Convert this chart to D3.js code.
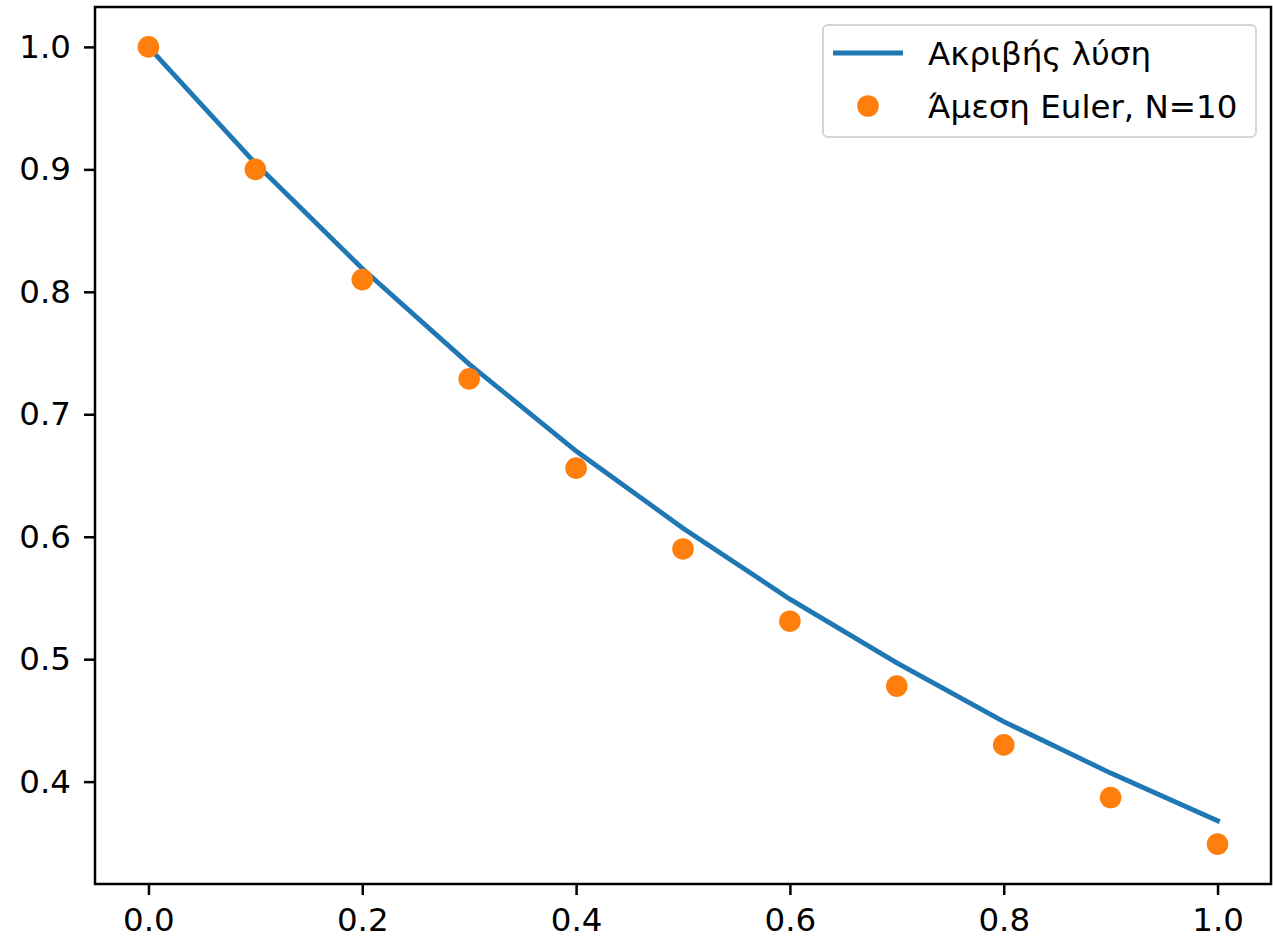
<!DOCTYPE html>
<html>
<head>
<meta charset="utf-8">
<script src="https://cdn.jsdelivr.net/npm/d3@7"></script>
<style>
  body { margin: 0; background: #fff; }
  svg { display: block; font-family: "DejaVu Sans", sans-serif; }
</style>
</head>
<body>
<svg width="1273" height="945"></svg>
<script>
// time steps t = 0, 0.1, ..., 1
var tValues = [0, 0.1, 0.2, 0.3, 0.4, 0.5, 0.6, 0.7, 0.8, 0.9, 1.0];
// exact solution
var exactValues = [1.0, 0.905, 0.819, 0.741, 0.670, 0.607, 0.549, 0.497, 0.449, 0.407, 0.368];
// explicit Euler markers
var eulerValues = [1.0, 0.9, 0.81, 0.729, 0.656, 0.590, 0.531, 0.478, 0.430, 0.387, 0.349];

var xTicks = [0.0, 0.2, 0.4, 0.6, 0.8, 1.0];
var yTicks = [0.4, 0.5, 0.6, 0.7, 0.8, 0.9, 1.0];
var legendLabels = ["Ακριβής λύση", "Άμεση Euler, N=10"];

var svg = d3.select("svg"),
    margin = {top: 7, right: 2, bottom: 61, left: 95},
    width = +svg.attr("width") - margin.left - margin.right,
    height = +svg.attr("height") - margin.top - margin.bottom;

var x = d3.scaleLinear().domain([-0.05, 1.05]).range([0, width]),
    y = d3.scaleLinear().domain([0.3164, 1.0326]).range([height, 0]);

var g = svg.append("g")
    .attr("transform", "translate(" + margin.left + "," + margin.top + ")");

var line = d3.line()
    .x(function(d, i) { return x(tValues[i]); })
    .y(function(d) { return y(d); });

g.append("path")
    .datum(exactValues)
    .attr("fill", "none")
    .attr("stroke", "#1f77b4")
    .attr("stroke-width", 4.8)
    .attr("stroke-linecap", "square")
    .attr("d", line);

g.selectAll("circle.euler")
    .data(eulerValues)
    .enter()
    .append("circle")
    .attr("class", "euler")
    .attr("cx", function(d, i) { return x(tValues[i]); })
    .attr("cy", function(d) { return y(d); })
    .attr("r", 10.8)
    .attr("fill", "#ff7f0e");

// axes
var xAxis = d3.axisBottom(x).tickValues(xTicks).tickFormat(d3.format(".1f"))
    .tickSize(11).tickPadding(13);
var yAxis = d3.axisLeft(y).tickValues(yTicks).tickFormat(d3.format(".1f"))
    .tickSize(11).tickPadding(13);

var gx = g.append("g")
    .attr("transform", "translate(0," + height + ")")
    .call(xAxis);
var gy = g.append("g").call(yAxis);

[gx, gy].forEach(function(a) {
  a.select(".domain").remove();
  a.selectAll("line").attr("stroke", "#000").attr("stroke-width", 2.5);
  a.selectAll("text").attr("fill", "#000")
      .style("font-size", "32.5px")
      .style("font-family", "DejaVu Sans, sans-serif");
});

// frame
g.append("rect")
    .attr("width", width)
    .attr("height", height)
    .attr("fill", "none")
    .attr("stroke", "#000")
    .attr("stroke-width", 2.5);

// legend
var legend = svg.append("g").attr("transform", "translate(823,25)");
legend.append("rect")
    .attr("width", 433)
    .attr("height", 112)
    .attr("rx", 5)
    .attr("fill", "#fff")
    .attr("fill-opacity", 0.8)
    .attr("stroke", "#d5d5d5")
    .attr("stroke-width", 2);

legend.append("line")
    .attr("x1", 10).attr("x2", 80)
    .attr("y1", 28).attr("y2", 28)
    .attr("stroke", "#1f77b4")
    .attr("stroke-width", 4.8);

legend.append("circle")
    .attr("cx", 45).attr("cy", 81)
    .attr("r", 10.8)
    .attr("fill", "#ff7f0e");

legend.selectAll("text.lbl")
    .data(legendLabels)
    .enter()
    .append("text")
    .attr("class", "lbl")
    .attr("x", 105)
    .attr("y", function(d, i) { return 28 + i * 53; })
    .attr("dy", "0.36em")
    .style("font-size", "32.5px")
    .attr("fill", "#000")
    .text(function(d) { return d; });
</script>
</body>
</html>
